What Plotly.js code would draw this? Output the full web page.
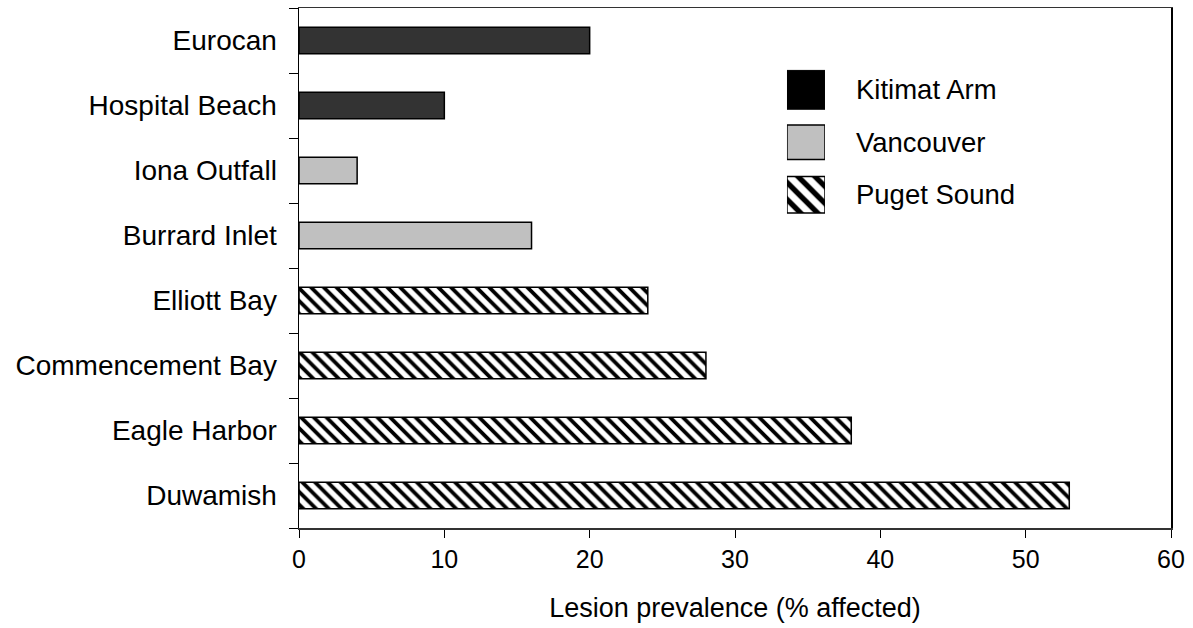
<!DOCTYPE html>
<html>
<head>
<meta charset="utf-8">
<script src="https://cdn.plot.ly/plotly-3.0.1.min.js"></script>
<style>html,body{margin:0;padding:0;background:#fff;}#chart{width:1193px;height:628px;}</style>
</head>
<body>
<div id="chart"></div>
<script>
// Categories (top to bottom) and values
const sitesKitimat = ["Eurocan", "Hospital Beach"];
const valuesKitimat = [20, 10];
const sitesVancouver = ["Iona Outfall", "Burrard Inlet"];
const valuesVancouver = [4, 16];
const sitesPuget = ["Elliott Bay", "Commencement Bay", "Eagle Harbor", "Duwamish"];
const valuesPuget = [24, 28, 38, 53];
const categoryOrder = ["Eurocan", "Hospital Beach", "Iona Outfall", "Burrard Inlet", "Elliott Bay", "Commencement Bay", "Eagle Harbor", "Duwamish"];
const legendNames = ["Kitimat Arm", "Vancouver", "Puget Sound"];
const xTicks = [0, 10, 20, 30, 40, 50, 60];
const xTitle = "Lesion prevalence (% affected)";

const font = "Liberation Sans, Arial, sans-serif";
const barW = 0.41;

const traces = [
  {type: "bar", orientation: "h", y: sitesKitimat, x: valuesKitimat, width: barW, name: legendNames[0],
   marker: {color: "#333333", line: {color: "#000", width: 1.5}}, showlegend: false, hoverinfo: "x+y"},
  {type: "bar", orientation: "h", y: sitesVancouver, x: valuesVancouver, width: barW, name: legendNames[1],
   marker: {color: "#c0c0c0", line: {color: "#000", width: 1.5}}, showlegend: false, hoverinfo: "x+y"},
  {type: "bar", orientation: "h", y: sitesPuget, x: valuesPuget, width: barW, name: legendNames[2],
   marker: {color: "#ffffff", line: {color: "#000", width: 1.5},
            pattern: {shape: "\\", fgcolor: "#000", bgcolor: "#fff", size: 9, solidity: 0.42}},
   showlegend: false, hoverinfo: "x+y"},
  // legend keys drawn in a small subplot
  {type: "bar", orientation: "h", y: [legendNames[0]], x: [1], width: 0.74, xaxis: "x2", yaxis: "y2",
   marker: {color: "#000", line: {color: "#000", width: 1}}, showlegend: false, hoverinfo: "skip"},
  {type: "bar", orientation: "h", y: [legendNames[1]], x: [1], width: 0.66, xaxis: "x2", yaxis: "y2",
   marker: {color: "#c0c0c0", line: {color: "#000", width: 1.5}}, showlegend: false, hoverinfo: "skip"},
  {type: "bar", orientation: "h", y: [legendNames[2]], x: [1], width: 0.70, xaxis: "x2", yaxis: "y2",
   marker: {color: "#fff", line: {color: "#000", width: 1.5},
            pattern: {shape: "\\", fgcolor: "#000", bgcolor: "#fff", size: 12, solidity: 0.45}},
   showlegend: false, hoverinfo: "skip"}
];

const layout = {
  width: 1193, height: 628,
  margin: {l: 299, r: 22, t: 8, b: 100},
  paper_bgcolor: "#fff", plot_bgcolor: "#fff",
  barmode: "overlay",
  showlegend: false,
  font: {family: font, color: "#000"},
  xaxis: {
    range: [0, 60], tickvals: xTicks, ticktext: xTicks.map(String),
    showgrid: false, zeroline: false,
    showline: true, linecolor: "#333", linewidth: 1.5, mirror: true,
    ticks: "outside", ticklen: 8, tickcolor: "#000", tickwidth: 1,
    tickfont: {family: font, size: 25, color: "#000"},
    title: {text: xTitle, font: {family: font, size: 27, color: "#000"}, standoff: 26},
    fixedrange: true
  },
  yaxis: {
    type: "category", categoryorder: "array", categoryarray: categoryOrder.slice().reverse(),
    range: [-0.5, 7.5],
    showgrid: false, zeroline: false,
    showline: true, linecolor: "#000", linewidth: 1.5, mirror: true,
    ticks: "outside", tickson: "boundaries", ticklen: 9, tickcolor: "#000", tickwidth: 1,
    tickfont: {family: font, size: 28, color: "#000"},
    ticklabelstandoff: 15,
    fixedrange: true
  },
  xaxis2: {
    domain: [0.5596, 0.6032], anchor: "y2", range: [0, 1],
    visible: false, fixedrange: true
  },
  yaxis2: {
    domain: [0.5904, 0.8931], anchor: "x2", type: "category",
    categoryorder: "array", categoryarray: legendNames.slice().reverse(),
    range: [-0.5, 2.5], side: "right",
    showgrid: false, zeroline: false, showline: false, ticks: "",
    tickfont: {family: font, size: 27.5, color: "#000"},
    ticklabelstandoff: 30,
    fixedrange: true
  }
};

Plotly.newPlot("chart", traces, layout, {displayModeBar: false, staticPlot: true});
</script>
</body>
</html>
